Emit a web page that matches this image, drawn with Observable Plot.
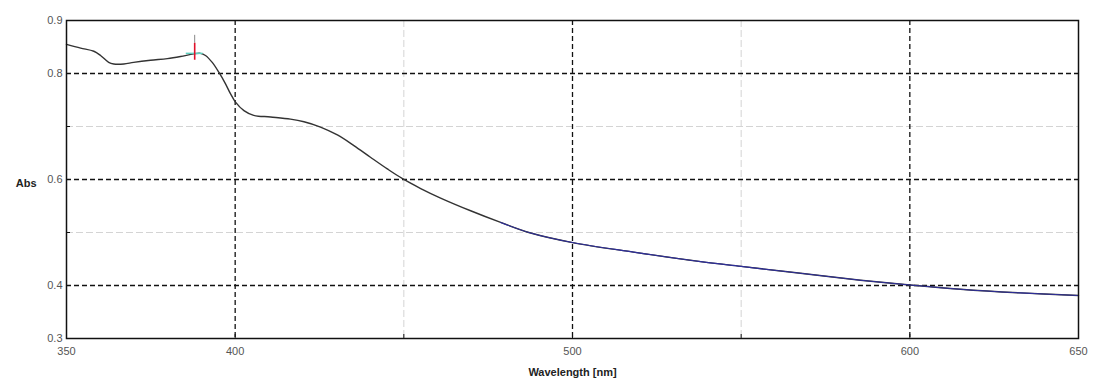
<!DOCTYPE html>
<html>
<head>
<meta charset="utf-8">
<script src="https://cdn.jsdelivr.net/npm/d3@7"></script>
<script src="https://cdn.jsdelivr.net/npm/@observablehq/plot@0.6"></script>
<style>
  html, body { margin: 0; padding: 0; background: #fff; }
  svg { display: block; }
</style>
</head>
<body>
<div id="chart"></div>
<script>
// Spectrum values
const wavelength = [350, 354.2, 358.1, 360.1, 362.5, 364.0, 367.0, 369.9, 374.9, 379.9, 383.8, 387.7, 389.7, 391.2, 393.2, 395.2, 397.1, 398.6, 400.1, 402.6, 405.5, 410.5, 416.4, 420.4, 425.3, 430.3, 435.2, 440.1, 445.1, 449.5, 455.0, 460.9, 469.8, 478.7, 487.6, 500, 518.1, 538, 550, 567.6, 585.4, 600, 615, 632.8, 650];
const absorbance = [0.855, 0.848, 0.842, 0.834, 0.821, 0.818, 0.818, 0.821, 0.825, 0.828, 0.832, 0.837, 0.838, 0.834, 0.821, 0.802, 0.781, 0.762, 0.746, 0.730, 0.721, 0.718, 0.714, 0.709, 0.699, 0.684, 0.664, 0.642, 0.620, 0.602, 0.583, 0.565, 0.541, 0.519, 0.499, 0.481, 0.463, 0.445, 0.436, 0.423, 0.410, 0.401, 0.393, 0.386, 0.381];

const xTicks = [350, 400, 500, 600, 650];
const yTicks = [0.3, 0.4, 0.6, 0.8, 0.9];
const xMajorGrid = [400, 500, 600];
const xMinorGrid = [450, 550];
const yMajorGrid = [0.4, 0.6, 0.8];
const yMinorGrid = [0.5, 0.7];

// Peak marker
const peakNm = [388];
const peakAbs = [0.838];
const peakMarkTop = [0.872];
const peakMarkMid = [0.857];
const peakMarkLow = [0.825];

const data = wavelength.map((w, i) => ({w, a: absorbance[i]}));
const peaks = peakNm.map((w, i) => ({w, a: peakAbs[i], top: peakMarkTop[i], mid: peakMarkMid[i], low: peakMarkLow[i]}));

const font = "'Liberation Sans', Arial, sans-serif";

const chart = Plot.plot({
  width: 1094,
  height: 391,
  marginLeft: 66,
  marginRight: 16,
  marginTop: 20,
  marginBottom: 53,
  style: {fontFamily: font, fontSize: "11px", background: "#fff"},
  x: {domain: [350, 650]},
  y: {domain: [0.3, 0.9]},
  marks: [
    Plot.ruleX(xMinorGrid, {stroke: "#d4d4d4", strokeWidth: 1, strokeDasharray: "7,3"}),
    Plot.ruleY(yMinorGrid, {stroke: "#d4d4d4", strokeWidth: 1, strokeDasharray: "7,3"}),
    Plot.ruleX(xMajorGrid, {stroke: "#111", strokeWidth: 1.3, strokeDasharray: "5,3"}),
    Plot.ruleY(yMajorGrid, {stroke: "#111", strokeWidth: 1.3, strokeDasharray: "5,3"}),
    Plot.axisX({ticks: xTicks, tickSize: 0, tickPadding: 9, tickFormat: d => String(d), fill: "#555", label: null}),
    Plot.axisX({ticks: xMinorGrid.concat(xMajorGrid), tickSize: -4, text: null, stroke: "#111", label: null}),
    Plot.axisY({ticks: yTicks, tickSize: 0, tickPadding: 4, tickFormat: d => d.toFixed(1), fill: "#555", label: null}),
    Plot.axisY({ticks: yMinorGrid.concat(yMajorGrid), tickSize: -4, text: null, stroke: "#111", label: null}),
    Plot.line(data, {x: "w", y: "a", stroke: "#333", strokeWidth: 1.4, curve: "catmull-rom"}),
    Plot.line(data.filter(d => d.w >= 470), {x: "w", y: "a", stroke: "#2f2f9a", strokeWidth: 1.1, curve: "catmull-rom"}),
    Plot.ruleY(peaks, {x1: d => d.w - 2.5, x2: d => d.w + 2.5, y: "a", stroke: "#5fd0c0", strokeWidth: 1.5}),
    Plot.ruleX(peaks, {x: "w", y1: "mid", y2: "top", stroke: "#888", strokeWidth: 1}),
    Plot.ruleX(peaks, {x: "w", y1: "low", y2: "mid", stroke: "#e0102a", strokeWidth: 1.6}),
    Plot.frame({stroke: "#111", strokeWidth: 1.5}),
    Plot.text(["Wavelength [nm]"], {frameAnchor: "bottom", dy: 37, fontWeight: "bold", fontSize: 11, fill: "#222"}),
    Plot.text(["Abs"], {frameAnchor: "left", dx: -30, dy: 4, textAnchor: "end", fontWeight: "bold", fontSize: 11, fill: "#222"})
  ]
});

document.getElementById("chart").appendChild(chart);
</script>
</body>
</html>
